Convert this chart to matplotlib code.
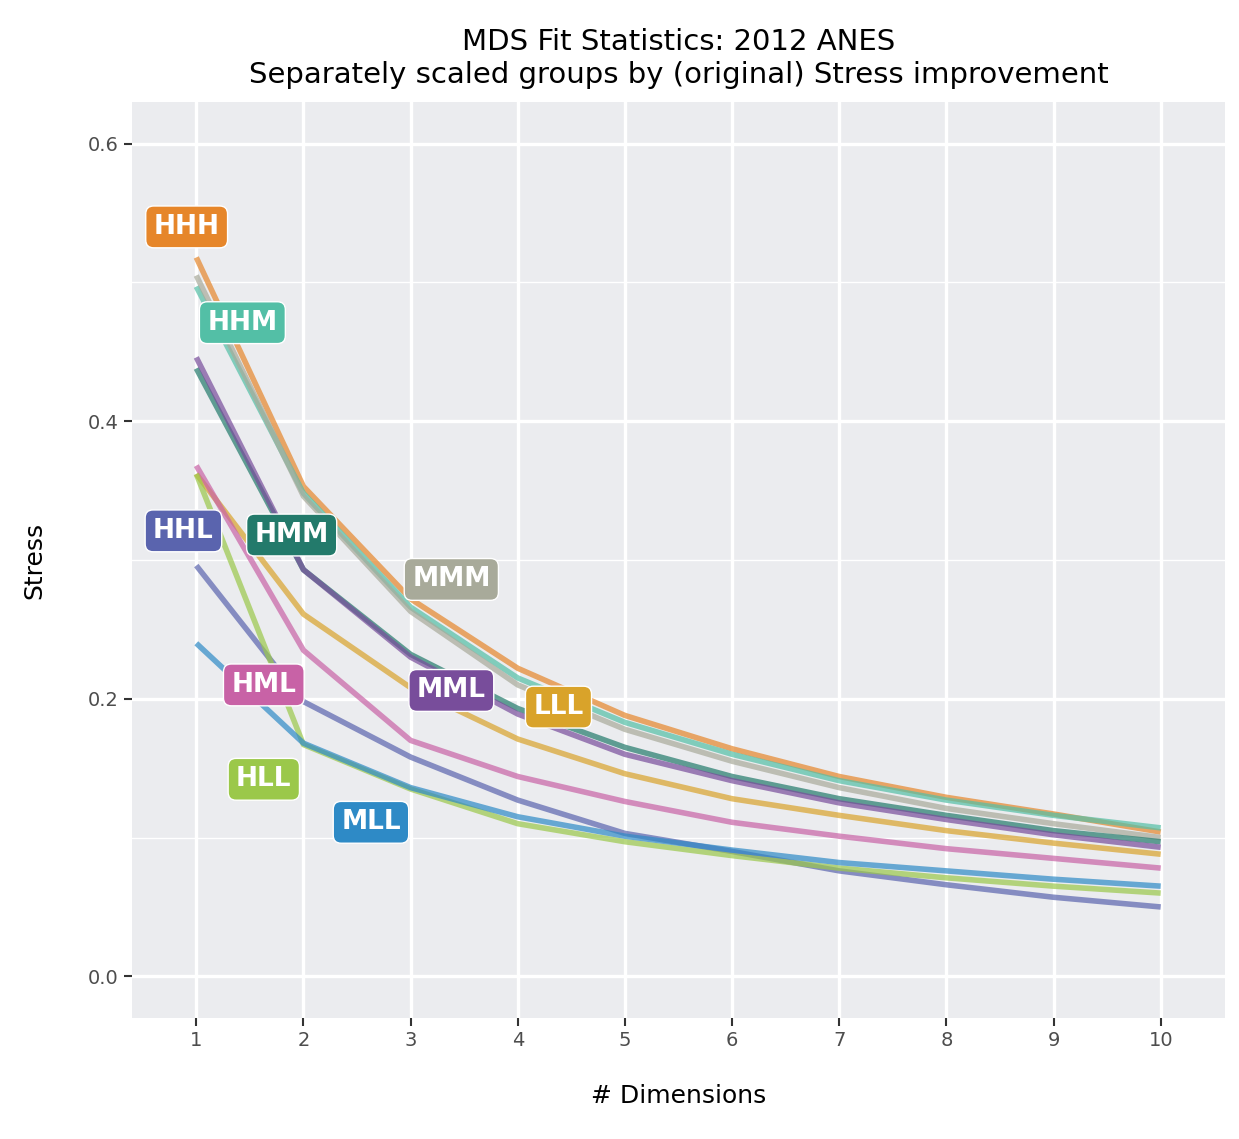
import matplotlib
matplotlib.use("Agg")
import matplotlib.pyplot as plt

dims = [1, 2, 3, 4, 5, 6, 7, 8, 9, 10]
groups = ["HHH", "HHM", "MMM", "HMM", "MML", "LLL", "HML", "HHL", "HLL", "MLL"]
colors = {"HHH": "#E6862A", "HHM": "#53BFA6", "MMM": "#A8AA9A", "HMM": "#237A6B",
          "MML": "#784D9B", "LLL": "#D9A32A", "HML": "#C862A6", "HHL": "#5A64AE",
          "HLL": "#9BC84A", "MLL": "#2E8AC6"}
stress = {
    "HHH": [0.518, 0.353, 0.272, 0.222, 0.188, 0.164, 0.144, 0.129, 0.117, 0.104],
    "HHM": [0.497, 0.348, 0.266, 0.215, 0.183, 0.160, 0.141, 0.127, 0.116, 0.107],
    "MMM": [0.505, 0.346, 0.263, 0.210, 0.178, 0.155, 0.136, 0.121, 0.110, 0.100],
    "HMM": [0.438, 0.293, 0.232, 0.193, 0.165, 0.144, 0.128, 0.116, 0.105, 0.097],
    "MML": [0.446, 0.293, 0.230, 0.189, 0.160, 0.141, 0.125, 0.113, 0.102, 0.093],
    "LLL": [0.362, 0.261, 0.208, 0.171, 0.146, 0.128, 0.116, 0.105, 0.096, 0.088],
    "HML": [0.368, 0.235, 0.170, 0.144, 0.126, 0.111, 0.101, 0.092, 0.085, 0.078],
    "HHL": [0.296, 0.198, 0.158, 0.127, 0.103, 0.090, 0.076, 0.066, 0.057, 0.050],
    "HLL": [0.362, 0.167, 0.135, 0.110, 0.097, 0.087, 0.078, 0.071, 0.065, 0.060],
    "MLL": [0.240, 0.168, 0.136, 0.115, 0.101, 0.091, 0.082, 0.076, 0.070, 0.065],
}
label_pos = {"HHH": (0.91, 0.540), "HHM": (1.43, 0.471), "HHL": (0.88, 0.321),
             "HMM": (1.89, 0.318), "MMM": (3.38, 0.286), "HML": (1.63, 0.210),
             "MML": (3.38, 0.206), "LLL": (4.38, 0.194), "HLL": (1.63, 0.142),
             "MLL": (2.63, 0.111)}

fig = plt.figure(figsize=(12.39, 11.39), dpi=100)
ax = fig.add_axes([132/1239, 1 - 1018/1139, (1225-132)/1239, (1018-102)/1139])
ax.set_facecolor("#EBECEF")
for s in ax.spines.values():
    s.set_visible(False)
ax.set_xlim(0.4, 10.6)
ax.set_ylim(-0.03, 0.63)
ax.set_xticks(dims)
ax.set_yticks([0.0, 0.2, 0.4, 0.6])
ax.set_yticklabels(["0.0", "0.2", "0.4", "0.6"])
ax.set_yticks([0.1, 0.3, 0.5], minor=True)
ax.grid(True, which="major", color="white", lw=2.4)
ax.grid(True, which="minor", axis="y", color="white", lw=1.0)
ax.set_axisbelow(True)
ax.tick_params(axis="both", which="major", labelsize=14, colors="#333333", length=6, width=1.5)
ax.tick_params(axis="y", which="minor", length=0)
for lab in ax.get_xticklabels() + ax.get_yticklabels():
    lab.set_color("#4D4D4D")

for g in groups:
    ax.plot(dims, stress[g], color=colors[g], lw=4, alpha=0.7, solid_capstyle="butt")
for g in groups:
    x, y = label_pos[g]
    ax.text(x, y, g, color="white", fontsize=19, fontweight="bold", ha="center", va="center",
            bbox=dict(boxstyle="round,pad=0.3,rounding_size=0.3", fc=colors[g], ec="white", lw=1))

ax.set_xlabel("# Dimensions", fontsize=18, labelpad=24)
ax.set_ylabel("Stress", fontsize=18, labelpad=30)
ax.set_title("MDS Fit Statistics: 2012 ANES\nSeparately scaled groups by (original) Stress improvement",
             fontsize=21, pad=14)
fig.savefig("out.png", dpi=100)
